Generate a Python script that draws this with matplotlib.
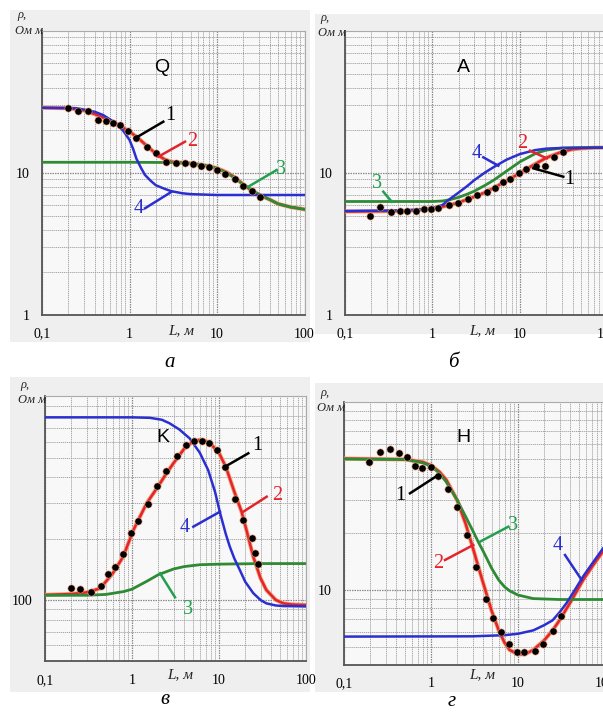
import matplotlib
matplotlib.use("Agg")
import matplotlib.pyplot as plt
from matplotlib.patches import Rectangle
from matplotlib.ticker import LogLocator, NullFormatter, FixedLocator, FixedFormatter

W, H = 603, 716
fig = plt.figure(figsize=(W / 100, H / 100), dpi=100)
fig.patch.set_facecolor("white")

# ---------------- data (L in m, rho in Ohm*m) ----------------
# Panel a: Q
a_dots_L = [0.2, 0.256, 0.338, 0.44, 0.54, 0.65, 0.78, 0.97, 1.18, 1.57, 1.99, 2.59, 3.37,
            4.31, 5.36, 6.51, 8.1, 10.1, 12.3, 16.1, 20, 25.3, 31]
a_dots_r = [28.8, 27.5, 27.5, 23.6, 23.2, 22.4, 21.8, 19.8, 17.6, 15.3, 13.9, 12.0, 11.7,
            11.8, 11.5, 11.25, 11.07, 10.5, 9.8, 9.07, 8.14, 7.47, 6.74]
a_red_L = [0.1, 0.2, 0.3, 0.4, 0.5, 0.7, 1.0, 1.3, 1.6, 2.0, 2.5, 3.0, 4.0, 5.0, 6.0, 8.0, 10, 13, 16, 20, 25, 30, 40, 50, 70, 100]
a_red_r = [28.8, 28.6, 27.6, 26.0, 24.6, 22.3, 19.6, 17.3, 15.4, 13.7, 12.5, 12.0, 11.8, 11.7, 11.5, 11.2, 10.8, 10.1, 9.3, 8.3, 7.5, 7.05, 6.5, 6.06, 5.75, 5.55]
a_grn_L = [0.1, 1, 3, 5, 7, 10, 13, 16, 20, 25, 30, 40, 50, 70, 100]
a_grn_r = [11.9, 11.9, 11.85, 11.7, 11.4, 10.8, 10.0, 9.2, 8.3, 7.6, 7.07, 6.5, 6.06, 5.75, 5.55]
a_blu_L = [0.1, 0.25, 0.4, 0.5, 0.7, 0.85, 1.0, 1.1, 1.2, 1.35, 1.5, 1.75, 2.0, 2.5, 3.0, 4.0, 5.0, 10, 100]
a_blu_r = [28.8, 28.6, 27.0, 25.6, 22.4, 19.8, 17.1, 14.8, 12.6, 10.9, 9.7, 8.8, 8.2, 7.75, 7.45, 7.2, 7.1, 7.0, 7.0]

# Panel b: A
b_dots_L = [0.193, 0.251, 0.333, 0.425, 0.515, 0.643, 0.8, 0.96, 1.15, 1.54, 1.94, 2.52, 3.25,
            4.23, 5.18, 6.45, 7.69, 9.75, 11.6, 15.1, 19.3, 24.7, 31.3]
b_dots_r = [5.0, 5.73, 5.28, 5.37, 5.37, 5.43, 5.58, 5.58, 5.67, 5.98, 6.15, 6.53, 7.0,
            7.38, 7.8, 8.6, 9.07, 9.95, 10.7, 11.25, 11.25, 13.0, 14.0]
b_red_L = [0.1, 0.5, 1, 1.5, 2, 3, 4, 5, 7, 10, 15, 20, 30, 40, 50, 70, 100]
b_red_r = [5.35, 5.4, 5.6, 5.9, 6.2, 6.8, 7.3, 7.85, 8.8, 10.0, 11.6, 12.8, 14.1, 14.7, 14.9, 15.05, 15.1]
b_grn_L = [0.1, 1, 1.3, 1.6, 2, 2.5, 3, 4, 5, 7, 10, 15, 20, 30, 50, 100]
b_grn_r = [6.3, 6.3, 6.35, 6.5, 6.75, 7.1, 7.45, 8.2, 8.9, 10.3, 12.0, 13.7, 14.5, 15.0, 15.1, 15.1]
b_blu_L = [0.1, 0.5, 1.0, 1.3, 1.6, 2, 2.5, 3, 4, 5, 7, 10, 15, 20, 30, 50, 100]
b_blu_r = [5.4, 5.45, 5.65, 5.95, 6.6, 7.3, 8.1, 8.9, 10.1, 11.0, 12.4, 13.6, 14.5, 14.85, 15.0, 15.05, 15.1]

# Panel c: K
c_dots_L = [0.199, 0.253, 0.338, 0.436, 0.525, 0.638, 0.78, 0.966, 1.18, 1.54, 1.92, 2.46,
            3.32, 4.18, 5.16, 6.33, 7.74, 9.57, 11.7, 15.3, 18.7, 24.2, 25.9, 27.9]
c_dots_r = [114, 112.8, 109.9, 117.6, 133.7, 145.8, 168.3, 212.6, 245, 295, 364, 430,
            511, 577, 604, 606, 589, 545, 452, 313, 247, 201, 171, 150]
c_red_L = [0.1, 0.2, 0.3, 0.43, 0.6, 0.79, 1.04, 1.47, 2, 2.5, 3, 4, 5, 6, 7, 8, 10, 12, 15,
           18.2, 21, 24.8, 30, 35, 45, 55, 70, 100]
c_red_r = [106, 107, 109, 114, 135, 163, 221, 298, 362, 420, 470, 555, 600, 612, 605, 585,
           528, 450, 340, 271, 215, 163, 128, 112, 100, 96.3, 95, 94.5]
c_grn_L = [0.1, 0.3, 0.5, 0.8, 1, 1.5, 2, 3, 4, 6, 10, 30, 100]
c_grn_r = [105.5, 105.5, 106.5, 110, 113, 124, 133, 142, 146, 149, 150, 151, 151]
c_blu_L = [0.1, 1, 1.6, 2.2, 2.7, 3.5, 4.6, 6, 7.5, 9, 10.3, 12, 13.3, 15, 17.4, 20, 24.8, 30, 35, 45, 55, 100]
c_blu_r = [789, 789, 785, 768, 738, 688, 622, 530, 435, 340, 267, 210, 183, 160, 140, 123, 108, 100, 96.3, 94, 93.4, 93]

# Panel d: H
d_dots_L = [0.196, 0.259, 0.338, 0.433, 0.535, 0.655, 0.795, 0.99, 1.19, 1.58, 1.97, 2.57,
            3.29, 4.29, 5.2, 6.38, 7.89, 9.82, 11.7, 15.7, 19.5, 25.5, 31.2]
d_dots_r = [47.8, 54.5, 56.0, 53.4, 51.2, 45.7, 44.4, 45.1, 40.4, 34.4, 27.7, 19.6,
            13.3, 8.92, 7.13, 5.95, 5.16, 4.68, 4.70, 4.76, 5.16, 6.08, 7.27]
d_red_L = [0.1, 0.5, 0.8, 1, 1.25, 1.5, 2, 2.5, 3, 3.5, 4, 5, 6, 7, 8, 10, 12, 15, 20, 25, 30, 40, 56, 75, 100]
d_red_r = [50, 49.5, 48, 46, 42.5, 38.5, 30, 22.5, 17, 13.3, 10.8, 7.7, 6.1, 5.25, 4.8, 4.55, 4.55, 4.8, 5.4, 6.1, 6.9, 8.6, 11.3, 13.8, 16.6]
d_grn_L = [0.1, 0.5, 0.8, 1, 1.25, 1.5, 2, 2.5, 3, 3.5, 4, 5, 6, 7, 8, 10, 15, 30, 100]
d_grn_r = [49.7, 49.5, 47.5, 45.6, 41.8, 37.5, 30.1, 24.6, 20.8, 18.0, 16.0, 13.0, 11.3, 10.4, 9.9, 9.4, 9.0, 8.9, 8.9]
d_blu_L = [0.1, 3, 7, 10, 15, 20, 25, 30, 36, 45, 56, 75, 100]
d_blu_r = [5.65, 5.67, 5.75, 5.85, 6.1, 6.5, 6.9, 7.6, 8.5, 10.0, 11.8, 14.3, 17.2]

x_ticks = [0.1, 1, 10, 100]
x_ticklabels = ["0,1", "1", "10", "100"]

RED, RED_HALO = "#e3242b", "#f5a27a"
GREEN = "#2e8a34"
BLUE = "#2c2fd0"


def px_axes(x0, x1, y0, y1):
    return fig.add_axes([x0 / W, 1 - y1 / H, (x1 - x0) / W, (y1 - y0) / H])


def panel_bg(x0, y0, x1, y1):
    fig.patches.append(Rectangle((x0 / W, 1 - y1 / H), (x1 - x0) / W, (y1 - y0) / H,
                                 transform=fig.transFigure, facecolor="#efefef",
                                 edgecolor="none", zorder=-10))


def style_axes(ax, ylim, yticks, yticklabels):
    ax.set_xscale("log")
    ax.set_yscale("log")
    ax.set_xlim(0.1, 100)
    ax.set_ylim(*ylim)
    ax.set_facecolor("#f8f8f8")
    ax.xaxis.set_major_locator(FixedLocator(x_ticks))
    ax.xaxis.set_major_formatter(FixedFormatter(x_ticklabels))
    ax.xaxis.set_minor_locator(LogLocator(base=10, subs=range(2, 10), numticks=20))
    ax.xaxis.set_minor_formatter(NullFormatter())
    ax.yaxis.set_major_locator(FixedLocator(yticks))
    ax.yaxis.set_major_formatter(FixedFormatter(yticklabels))
    ax.yaxis.set_minor_locator(LogLocator(base=10, subs=range(2, 10), numticks=20))
    ax.yaxis.set_minor_formatter(NullFormatter())
    ax.tick_params(which="both", length=0)
    ax.tick_params(axis="x", pad=9, labelsize=10)
    ax.tick_params(axis="y", pad=9, labelsize=10)
    for lab in ax.get_xticklabels() + ax.get_yticklabels():
        lab.set_fontfamily("Liberation Serif")
    ax.grid(True, which="major", color="#8a8a8a", lw=0.9, ls=(0, (1.2, 0.8)))
    ax.grid(True, which="minor", color="#a5a5a5", lw=0.7, ls=(0, (1.2, 0.8)))
    ax.set_axisbelow(True)
    for s in ("left", "bottom"):
        ax.spines[s].set_color("#555555")
        ax.spines[s].set_linewidth(1.3)
    for s in ("top", "right"):
        ax.spines[s].set_color("#aaaaaa")
        ax.spines[s].set_linewidth(0.8)


def draw(ax, red, grn, blu, dots, order):
    for key in order:
        if key == "red":
            ax.plot(*red, color=RED_HALO, lw=3.0, zorder=3)
            ax.plot(*red, color=RED, lw=1.8, zorder=3.1)
        elif key == "grn":
            ax.plot(*grn, color=GREEN, lw=2.0, zorder=3.2)
        elif key == "blu":
            ax.plot(*blu, color=BLUE, lw=1.8, zorder=3.3)
    ax.plot(*dots, "o", color="black", ms=5.2, mec=RED_HALO, mew=0.4, zorder=5)


def ann(ax, text, color, tx, ty, x0, y0, x1, y1):
    # coordinates in figure pixels
    fig.add_artist(plt.Line2D([x0 / W, x1 / W], [1 - y0 / H, 1 - y1 / H],
                              transform=fig.transFigure, color=color, lw=1.8, zorder=10))
    fig.text(tx / W, 1 - ty / H, text, color=color, fontsize=14.5,
             family="Liberation Serif", ha="center", va="center", zorder=11)


def ylab(x_rho, y_rho, x_right, y_unit):
    fig.text(x_rho / W, 1 - y_rho / H, "ρ,", fontsize=9, style="italic", family="Liberation Serif",
             ha="center", va="center", color="#222222")
    fig.text(x_right / W, 1 - y_unit / H, "Ом м", fontsize=9, style="italic",
             family="Liberation Serif", ha="right", va="center", color="#222222")


def xlab(x, y):
    fig.text(x / W, 1 - y / H, "L, м", fontsize=11, style="italic",
             family="Liberation Serif", ha="center", va="center", color="#222222")


# panel backgrounds
panel_bg(10, 10, 310, 342)
panel_bg(315, 14, 603, 334)
panel_bg(10, 377, 310, 692)
panel_bg(315, 383, 603, 692)

# ---- a ----
axa = px_axes(42, 304.5, 31, 315)
style_axes(axa, (1, 100), [1, 10], ["1", "10"])
draw(axa, (a_red_L, a_red_r), (a_grn_L, a_grn_r), (a_blu_L, a_blu_r),
     (a_dots_L, a_dots_r), ["red", "grn", "blu"])
fig.text(162 / W, 1 - 68 / H, "Q", fontsize=14, family="Liberation Sans", ha="center", va="center")
ann(axa, "1", "black", 170, 116, 135, 138.3, 163.3, 121.7)
ann(axa, "2", RED, 192, 141, 158.3, 156.7, 185, 141.7)
ann(axa, "3", "#22a050", 281, 169, 248.3, 186.7, 276.7, 170)
ann(axa, "4", BLUE, 139, 209, 145, 208.3, 171.7, 191.7)
ylab(22, 15, 43, 31)
xlab(181, 331)

# ---- b ----
axb = px_axes(345, 607.5, 31, 315)
style_axes(axb, (1, 100), [1, 10], ["1", "10"])
draw(axb, (b_red_L, b_red_r), (b_grn_L, b_grn_r), (b_blu_L, b_blu_r),
     (b_dots_L, b_dots_r), ["red", "blu", "grn"])
fig.text(463 / W, 1 - 68 / H, "A", fontsize=14, family="Liberation Sans", ha="center", va="center")
ann(axb, "4", BLUE, 477, 154, 483.3, 157.3, 498.3, 165.7)
ann(axb, "2", RED, 522, 143, 530, 150.7, 546.7, 158.3)
ann(axb, "1", "black", 569, 180, 533.3, 168.3, 563.3, 176.7)
ann(axb, "3", "#22a050", 377, 184, 383.3, 191.7, 391.7, 201.7)
ylab(325, 18, 346, 33)
xlab(482, 331)

# ---- c ----
axc = px_axes(45, 306, 396.4, 661.3)
style_axes(axc, (50, 1000), [100], ["100"])
draw(axc, (c_red_L, c_red_r), (c_grn_L, c_grn_r), (c_blu_L, c_blu_r),
     (c_dots_L, c_dots_r), ["grn", "blu", "red"])
fig.text(163 / W, 1 - 437 / H, "K", fontsize=14, family="Liberation Sans", ha="center", va="center")
ann(axc, "1", "black", 257, 446, 225, 466.7, 248.3, 453.3)
ann(axc, "2", RED, 277, 495, 243.3, 511.7, 266.7, 496.7)
ann(axc, "4", BLUE, 185, 528, 193.3, 526.7, 220, 511.7)
ann(axc, "3", "#22a050", 188, 610, 160, 573.3, 175, 597.3)
ylab(25, 385, 46, 400)
xlab(180, 675)

# ---- d ----
axd = px_axes(344, 605, 402, 664.8)
style_axes(axd, (4, 100), [10], ["10"])
draw(axd, (d_red_L, d_red_r), (d_grn_L, d_grn_r), (d_blu_L, d_blu_r),
     (d_dots_L, d_dots_r), ["red", "grn", "blu"])
fig.text(463 / W, 1 - 437 / H, "H", fontsize=14, family="Liberation Sans", ha="center", va="center")
ann(axd, "1", "black", 400, 495, 410, 493.3, 438.3, 475)
ann(axd, "2", RED, 438, 563, 445, 560, 473.3, 545)
ann(axd, "3", "#22a050", 513, 525, 480, 541.7, 508.3, 526.7)
ann(axd, "4", BLUE, 558, 545, 565, 555, 581.7, 580)
ylab(325, 393, 345, 408)
xlab(482, 675)

# captions
for x, y, t in [(170, 362, "а"), (453, 362, "б"), (165, 700, "в"), (452, 702, "г")]:
    fig.text(x / W, 1 - y / H, t, fontsize=15, style="italic", family="Liberation Serif",
             ha="center", va="center")

fig.savefig("out.png", dpi=100)
